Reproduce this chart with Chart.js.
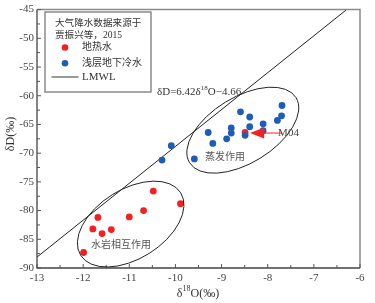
<!DOCTYPE html>
<html><head><meta charset="utf-8">
<script src="https://cdn.jsdelivr.net/npm/chart.js@4/dist/chart.umd.min.js"></script>
<style>html,body{margin:0;padding:0;background:#fff}#wrap{width:375px;height:303px}</style>
</head><body><div id="wrap"><canvas id="c" width="375" height="303"></canvas></div>
<script>
// Data
const geoLabel = '地热水';
const geoX = [-10.48, -9.89, -10.69, -11.0, -11.68, -11.79, -11.39, -11.59, -11.99, -8.49];
const geoY = [-76.6, -78.8, -80.0, -81.1, -81.2, -83.2, -83.3, -84.0, -87.3, -66.4];
const coldLabel = '浅层地下冷水';
const coldX = [-7.69, -7.70, -7.79, -8.59, -8.39, -8.10, -8.39, -8.79, -8.10, -8.79, -9.29, -8.49, -8.89, -9.19, -9.59, -10.29, -10.09];
const coldY = [-61.7, -63.5, -64.3, -62.8, -63.7, -64.9, -65.4, -65.6, -66.1, -66.5, -66.4, -66.9, -67.5, -68.3, -71.0, -71.2, -68.7];
const lmwlLabel = 'LMWL';
const lmwlX = [-13, -6.29];
const lmwlY = [-88.1, -45.0];
const xTicks = [-13, -12, -11, -10, -9, -8, -7, -6];
const yTicks = [-90, -85, -80, -75, -70, -65, -60, -55, -50, -45];
const noteLines = ['大气降水数据来源于', '贾振兴等，2015'];
const equation = ['δD=6.42δ', '18', 'O−4.66'];
const evapLabel = '蒸发作用';
const rockLabel = '水岩相互作用';
const m04Label = 'M04';
const m04Point = [-8.49, -66.5];

const SERIF = "'Liberation Serif', 'Noto Sans CJK SC', serif";
const RED = '#f32020';
const BLUE = '#1f5cb8';

const overlay = {
  id: 'overlay',
  afterDatasetsDraw(chart) {
    const ctx = chart.ctx, a = chart.chartArea;
    const xs = chart.scales.x, ys = chart.scales.y;
    ctx.save();
    // frame
    ctx.lineWidth = 1.5;
    ctx.strokeStyle = '#8a8a8a';
    ctx.beginPath();
    ctx.moveTo(a.left, a.top); ctx.lineTo(a.right, a.top); ctx.lineTo(a.right, a.bottom);
    ctx.stroke();
    ctx.strokeStyle = '#444';
    ctx.lineWidth = 1.3;
    ctx.beginPath();
    ctx.moveTo(a.left, a.top); ctx.lineTo(a.left, a.bottom); ctx.lineTo(a.right, a.bottom);
    ctx.stroke();
    // inward ticks
    ctx.lineWidth = 1;
    ctx.strokeStyle = '#555';
    ctx.beginPath();
    for (let v = xs.min; v <= xs.max + 1e-9; v += 0.5) {
      const px = xs.getPixelForValue(v);
      const len = Math.abs(v - Math.round(v)) < 1e-6 ? 4 : 3;
      ctx.moveTo(px, a.bottom); ctx.lineTo(px, a.bottom - len);
    }
    for (let v = ys.min; v <= ys.max + 1e-9; v += 2.5) {
      const py = ys.getPixelForValue(v);
      const len = Math.abs(v / 5 - Math.round(v / 5)) < 1e-6 ? 4 : 3;
      ctx.moveTo(a.left, py); ctx.lineTo(a.left + len, py);
    }
    ctx.stroke();

    // ellipses (center in data units, size in px)
    const ellipses = [
      { c: [-10.97, -82.35], rx: 59, ry: 34.7, rot: -32 },
      { c: [-8.54, -66.0], rx: 62.4, ry: 33, rot: -31.4 }
    ];
    ctx.strokeStyle = '#222';
    ctx.lineWidth = 1;
    ellipses.forEach(e => {
      ctx.beginPath();
      ctx.ellipse(xs.getPixelForValue(e.c[0]), ys.getPixelForValue(e.c[1]), e.rx, e.ry, e.rot * Math.PI / 180, 0, Math.PI * 2);
      ctx.stroke();
    });

    // region labels
    ctx.fillStyle = '#555';
    ctx.font = '10px ' + SERIF;
    ctx.textBaseline = 'middle';
    ctx.textAlign = 'left';
    ctx.fillText(evapLabel, 205, 157);
    ctx.fillText(rockLabel, 91, 245);

    // M04 arrow
    const tipX = xs.getPixelForValue(m04Point[0]) + 5;
    const ty = ys.getPixelForValue(m04Point[1]);
    ctx.strokeStyle = RED; ctx.fillStyle = RED; ctx.lineWidth = 1;
    ctx.beginPath(); ctx.moveTo(tipX + 10, ty); ctx.lineTo(tipX + 32, ty); ctx.stroke();
    ctx.beginPath(); ctx.moveTo(tipX, ty); ctx.lineTo(tipX + 14, ty - 5.5); ctx.lineTo(tipX + 14, ty + 5.5); ctx.closePath(); ctx.fill();
    ctx.fillStyle = '#444';
    ctx.font = '11px ' + SERIF;
    ctx.fillText(m04Label, tipX + 28, ty + 0.5);

    // equation
    ctx.fillStyle = '#333';
    ctx.font = '11px ' + SERIF;
    let ex = 157, ey = 92;
    ctx.fillText(equation[0], ex, ey); ex += ctx.measureText(equation[0]).width;
    ctx.font = '7px ' + SERIF;
    ctx.fillText(equation[1], ex, ey - 4); ex += ctx.measureText(equation[1]).width;
    ctx.font = '11px ' + SERIF;
    ctx.fillText(equation[2], ex, ey);

    // axis titles
    ctx.fillStyle = '#333';
    const t1 = 'δ', t2 = '18', t3 = 'O(‰)';
    ctx.font = '12px ' + SERIF;
    const w1 = ctx.measureText(t1).width, w3 = ctx.measureText(t3).width;
    ctx.font = '8px ' + SERIF;
    const w2 = ctx.measureText(t2).width;
    let tx = 198 - (w1 + w2 + w3) / 2;
    ctx.font = '12px ' + SERIF; ctx.fillText(t1, tx, 294); tx += w1;
    ctx.font = '8px ' + SERIF; ctx.fillText(t2, tx, 289); tx += w2;
    ctx.font = '12px ' + SERIF; ctx.fillText(t3, tx, 294);
    ctx.save();
    ctx.translate(11, 134);
    ctx.rotate(-Math.PI / 2);
    ctx.textAlign = 'center';
    ctx.font = '12px ' + SERIF;
    ctx.fillText('δD(‰)', 0, 0);
    ctx.restore();

    // legend
    ctx.fillStyle = '#fff';
    ctx.fillRect(45, 12, 106, 80);
    ctx.strokeStyle = '#8a8a8a'; ctx.lineWidth = 1.5;
    ctx.strokeRect(45, 12, 106, 80);
    ctx.fillStyle = '#333';
    ctx.font = '9.6px ' + SERIF;
    ctx.textAlign = 'left';
    ctx.fillText(noteLines[0], 55, 23.5);
    ctx.fillText(noteLines[1], 55, 35);
    ctx.fillStyle = RED;
    ctx.beginPath(); ctx.arc(65, 47.5, 3.3, 0, Math.PI * 2); ctx.fill();
    ctx.fillStyle = BLUE;
    ctx.beginPath(); ctx.arc(65, 63.3, 3.3, 0, Math.PI * 2); ctx.fill();
    ctx.strokeStyle = '#333'; ctx.lineWidth = 1;
    ctx.beginPath(); ctx.moveTo(51.5, 77); ctx.lineTo(78.5, 77); ctx.stroke();
    ctx.fillStyle = '#333';
    ctx.font = '10px ' + SERIF;
    ctx.fillText(geoLabel, 82, 47.5);
    ctx.fillText(coldLabel, 82, 63.5);
    ctx.font = '11px ' + SERIF;
    ctx.fillText(lmwlLabel, 82, 77);
    ctx.restore();
  }
};

const toPts = (xsArr, ysArr) => xsArr.map((x, i) => ({ x: x, y: ysArr[i] }));

new Chart(document.getElementById('c'), {
  type: 'scatter',
  data: {
    datasets: [
      { label: coldLabel, data: toPts(coldX, coldY), backgroundColor: BLUE, borderColor: BLUE, pointRadius: 3.4, borderWidth: 0, order: 0 },
      { label: geoLabel, data: toPts(geoX, geoY), backgroundColor: RED, borderColor: RED, pointRadius: 3.4, borderWidth: 0, order: 1 },
      { type: 'line', label: lmwlLabel, data: toPts(lmwlX, lmwlY), borderColor: '#222', borderWidth: 1, pointRadius: 0, fill: false, order: 2 }
    ]
  },
  options: {
    responsive: false,
    animation: false,
    events: [],
    layout: { padding: { top: 9, right: 15, left: 0, bottom: 0 } },
    plugins: { legend: { display: false }, tooltip: { enabled: false } },
    scales: {
      x: {
        type: 'linear', min: -13, max: -6,
        afterBuildTicks: s => { s.ticks = xTicks.map(v => ({ value: v })); },
        afterFit: s => { s.height = 35; },
        grid: { display: false, drawTicks: false },
        border: { display: false },
        ticks: { padding: 4, color: '#444', font: { family: SERIF, size: 11 } }
      },
      y: {
        type: 'linear', min: -90, max: -45,
        afterBuildTicks: s => { s.ticks = yTicks.map(v => ({ value: v })); },
        afterFit: s => { s.width = 37; },
        grid: { display: false, drawTicks: false },
        border: { display: false },
        ticks: { padding: 3, color: '#444', font: { family: SERIF, size: 11 } }
      }
    }
  },
  plugins: [overlay]
});
</script>
</body></html>
